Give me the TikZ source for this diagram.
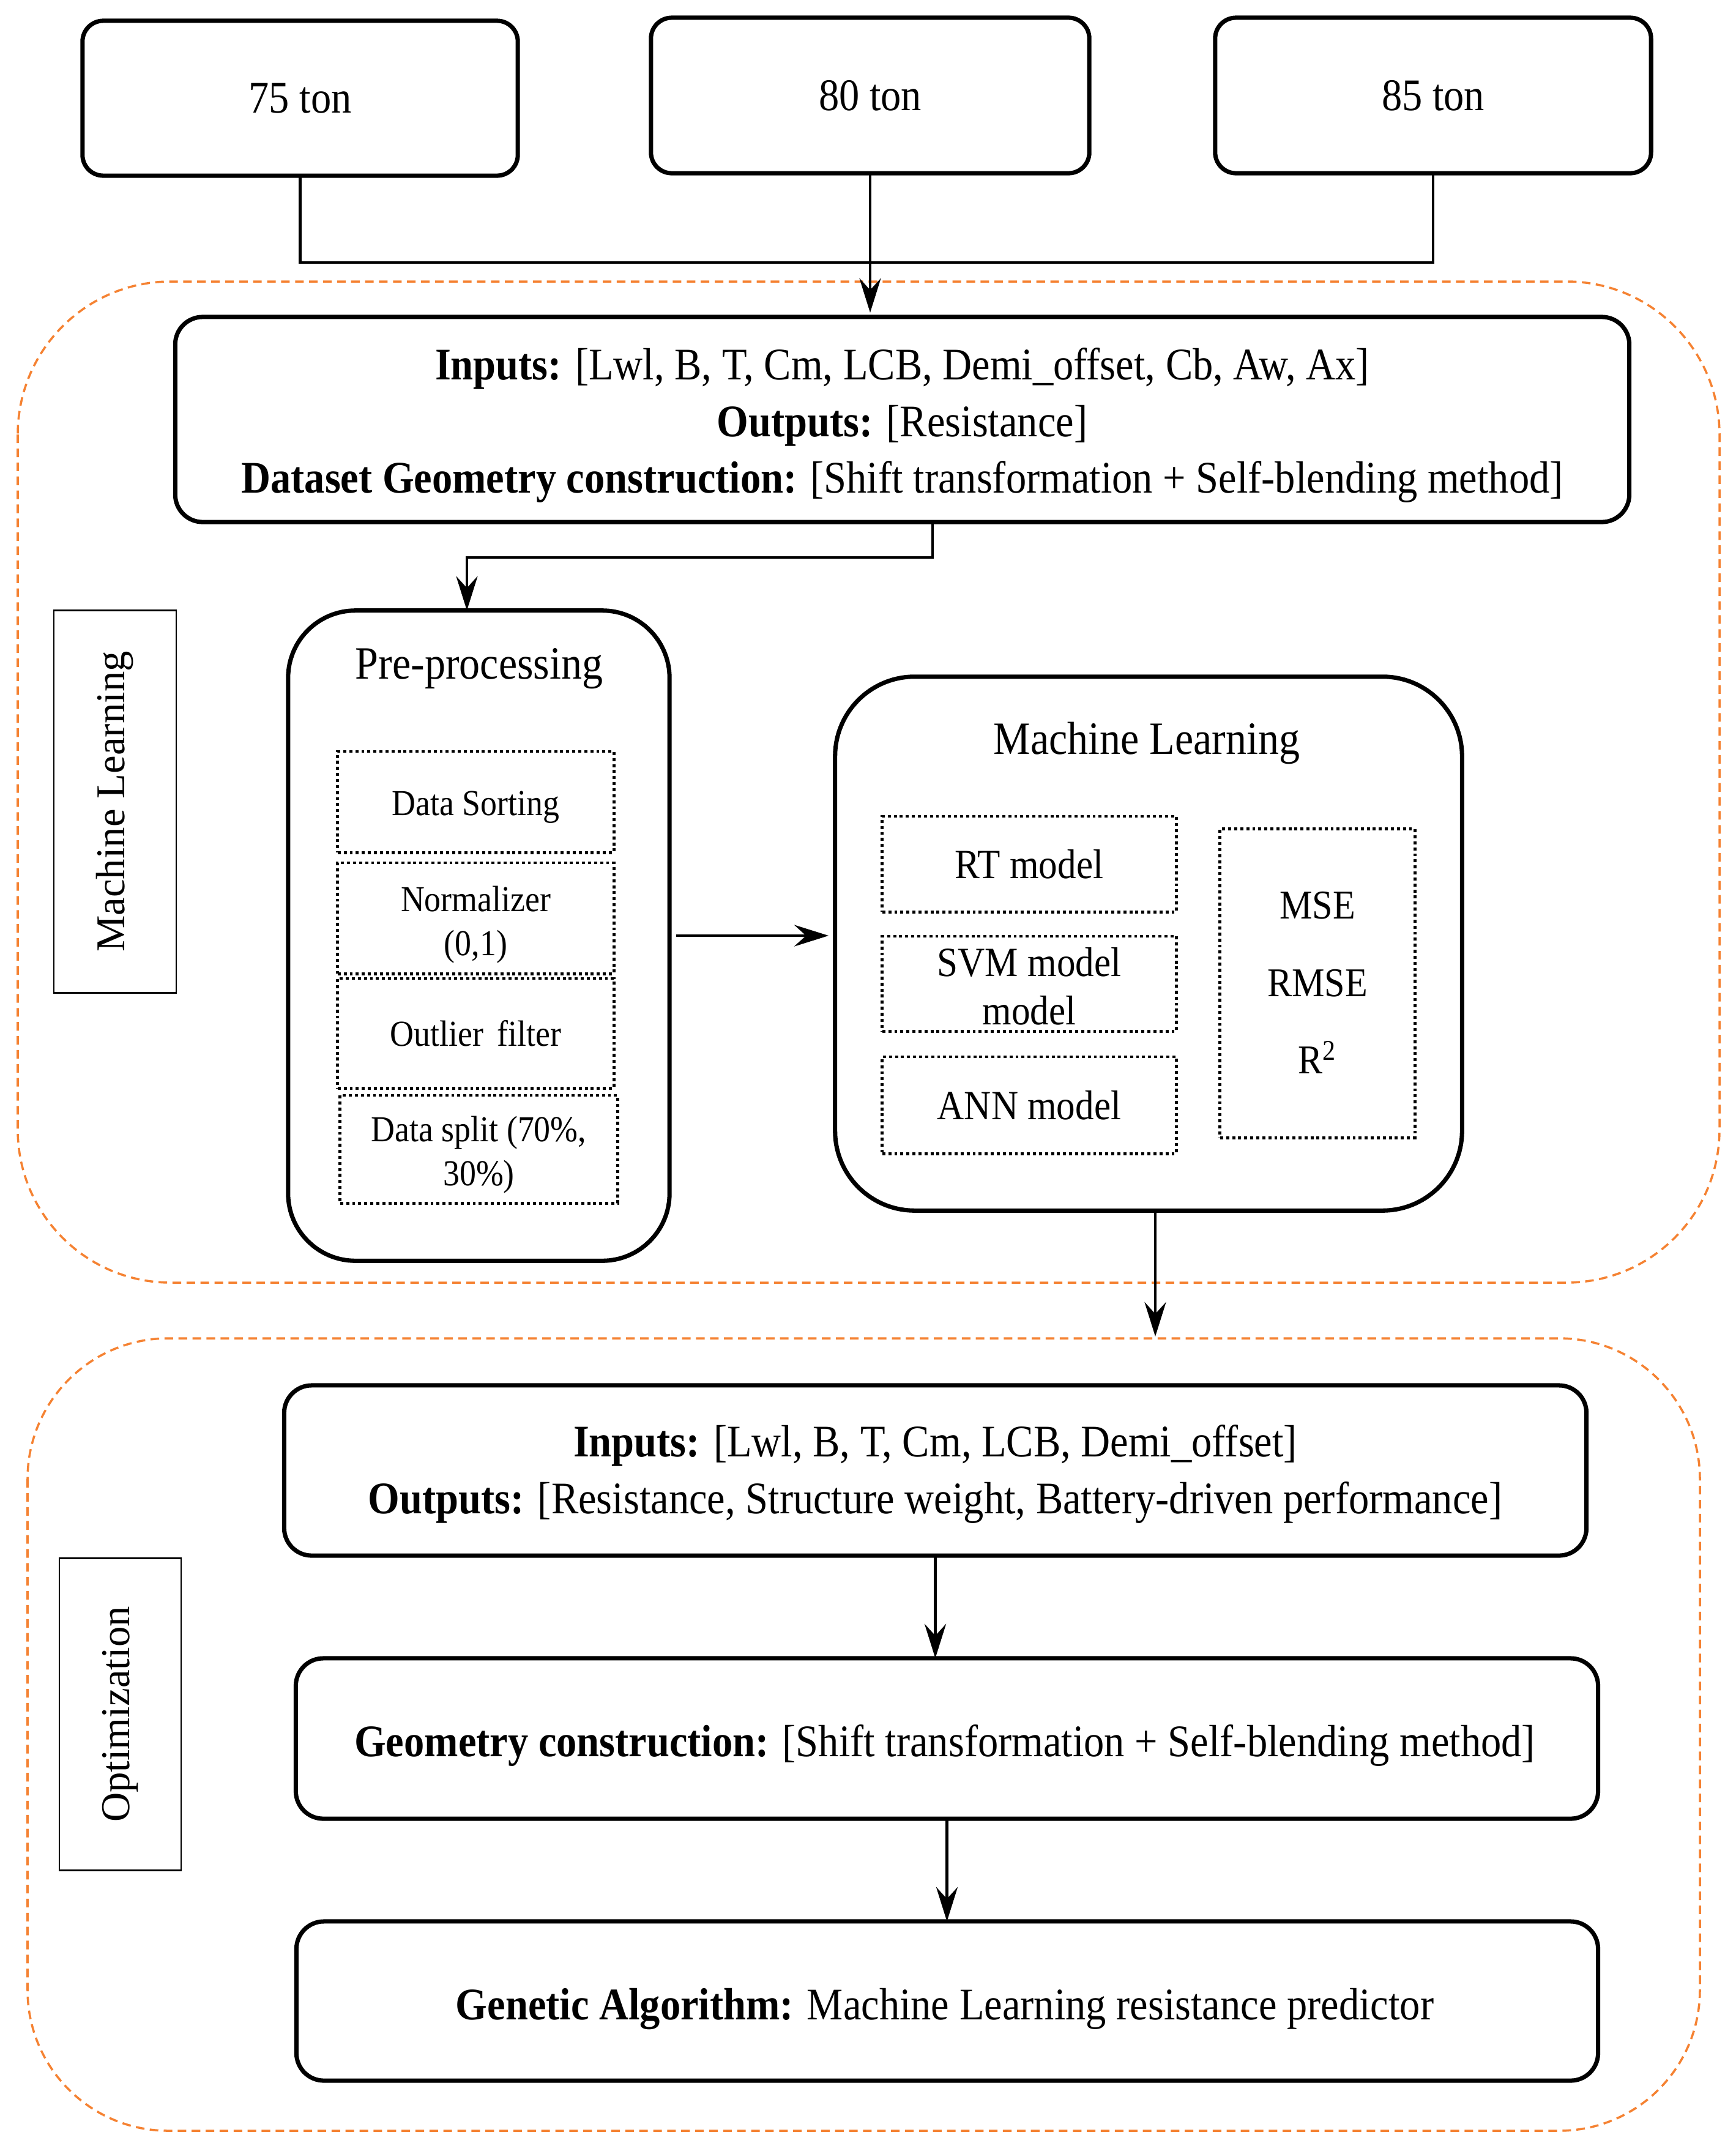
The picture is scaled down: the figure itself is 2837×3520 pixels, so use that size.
\documentclass[tikz,border=0pt]{standalone}
\usepackage{fontspec}
\setmainfont{Liberation Serif}[FakeStretch=0.9]
\newfontfamily\rotfont{Liberation Serif}
\usetikzlibrary{arrows.meta}
\definecolor{orng}{RGB}{245,130,50}
\tikzset{
  bigbox/.style={draw, line width=2pt, outer sep=0pt, inner sep=0pt, align=center},
  dotbox/.style={draw, line width=1.4pt, dash pattern=on 1.4pt off 1.4pt, outer sep=0pt, inner sep=0pt, align=center},
  labbox/.style={draw, line width=0.8pt, outer sep=0pt, inner sep=0pt},
  region/.style={draw=orng, line width=1pt, dash pattern=on 4pt off 2.5pt},
  conn/.style={line width=1.2pt},
  arr/.style={line width=1.2pt, -{Stealth[length=16pt,width=10pt,inset=5.5pt]}},
  bigtxt/.style={font=\fontsize{21}{26.2}\selectfont, align=center, inner sep=0pt},
  toptxt/.style={font=\fontsize{21}{26}\selectfont},
  ttltxt/.style={font=\fontsize{21.5}{26}\selectfont},
  midtxt/.style={font=\fontsize{19.3}{22.5}\selectfont, align=center},
  smalltxt/.style={font=\fontsize{17}{20.5}\selectfont, align=center},
  rottxt/.style={font=\rotfont\fontsize{19}{23}\selectfont, rotate=90}
}
\begin{document}
\begin{tikzpicture}[x=0.01cm,y=-0.01cm]
\useasboundingbox (0,0) rectangle (2837,3520);

% regions
\draw[region, rounded corners=2.5cm] (29,460) rectangle (2810,2096);
\draw[region, rounded corners=2.3cm] (45,2187) rectangle (2778,3482);

% top boxes
\node[bigbox, toptxt, rounded corners=0.34cm, minimum width=7.11cm, minimum height=2.53cm] (t75) at (490.5,160.5) {75 ton};
\node[bigbox, toptxt, rounded corners=0.34cm, minimum width=7.16cm, minimum height=2.54cm] (t80) at (1422,156) {80 ton};
\node[bigbox, toptxt, rounded corners=0.34cm, minimum width=7.12cm, minimum height=2.54cm] (t85) at (2342,156) {85 ton};

% inputs box 1
\node[bigbox, rounded corners=0.45cm, minimum width=23.75cm, minimum height=3.35cm] (in1) at (1474.5,685.5) {};
\node[bigtxt] (in1t) at (1474.5,695)
  {\textbf{Inputs:} [Lwl, B,\ T, Cm, LCB,\ Demi\_offset, Cb, Aw, Ax]\\
   \textbf{Outputs:} [Resistance]\\
   \textbf{Dataset Geometry construction:} [Shift transformation + Self-blending method]};

\coordinate (jn) at (1422,429);
\draw[conn] (t75.south) |- (jn) -| (t85.south);
\draw[arr, shorten >=2pt] (t80.south) -- (t80.south |- in1.north);

% ML label
\node[labbox, minimum width=2.0cm, minimum height=6.24cm] (mllab) at (188,1310) {};
\node[rottxt] (mllabt) at (mllab.center) {Machine Learning};

% pre-processing
\node[bigbox, rounded corners=1.1cm, minimum width=6.23cm, minimum height=10.62cm] (pre) at (782.5,1529) {};
\node[ttltxt] (pret) at (783,1093) {Pre-processing};
\node[dotbox, minimum width=4.51cm, minimum height=1.65cm] (ds) at (777.5,1310.5) {};
\node[smalltxt] (dst) at (777.5,1319) {Data Sorting};
\node[dotbox, minimum width=4.51cm, minimum height=1.81cm] (nz) at (777.5,1500.5) {};
\node[smalltxt] (nzt) at (777.5,1511) {Normalizer\\(0,1)};
\node[dotbox, smalltxt, minimum width=4.51cm, minimum height=1.79cm] (of) at (777.5,1688.5) {Outlier\hspace{0.15em} filter};
\node[dotbox, minimum width=4.53cm, minimum height=1.76cm] (dsp) at (782.5,1878) {};
\node[smalltxt] (dspt) at (782.5,1887) {Data split (70\%,\\30\%)};

\coordinate (c1) at (1524,911);
\coordinate (c2) at (763,911);
\draw[arr] (in1.south -| c1) -- (c1) -- (c2) -- (pre.north -| c2);

% machine learning
\node[bigbox, rounded corners=1.3cm, minimum width=10.24cm, minimum height=8.72cm] (ml) at (1877,1542) {};
\node[ttltxt] (mlt) at (1874,1214) {Machine Learning};
\node[dotbox, midtxt, minimum width=4.8cm, minimum height=1.56cm] (rt) at (1682,1412) {RT model};
\node[dotbox, minimum width=4.8cm, minimum height=1.55cm] (svm) at (1682,1607.5) {};
\node[midtxt] (svmt) at (1682,1612) {SVM model\\model};
\node[dotbox, midtxt, minimum width=4.8cm, minimum height=1.58cm] (ann) at (1682,1806) {ANN model};
\node[dotbox, minimum width=3.18cm, minimum height=5.04cm] (met) at (2153,1607) {};
\node[font=\fontsize{19}{36}\selectfont, align=center] (mett) at (2153,1606) {MSE\\RMSE\\R\textsuperscript{2}};

\draw[arr, shorten <=3pt, shorten >=3pt] (pre.east) -- (pre.east -| ml.west);

\coordinate (mlout) at (1888,1978);
\coordinate (r2top) at (1888,2184);
\draw[arr] (mlout) -- (r2top);

% optimization
\node[labbox, minimum width=1.99cm, minimum height=5.09cm] (oplab) at (196.5,2801.5) {};
\node[rottxt] (oplabt) at (oplab.center) {Optimization};

\node[bigbox, rounded corners=0.45cm, minimum width=21.27cm, minimum height=2.78cm] (in2) at (1528.5,2403) {};
\node[bigtxt] (in2t) at (1528.5,2409)
  {\textbf{Inputs:} [Lwl, B,\ T, Cm, LCB,\ Demi\_offset]\\
   \textbf{Outputs:} [Resistance, Structure weight, Battery-driven performance]};
\node[bigbox, rounded corners=0.45cm, minimum width=21.27cm, minimum height=2.62cm] (geo) at (1547.5,2841) {};
\node[bigtxt] (geot) at (1544,2852)
  {\textbf{Geometry construction:} [Shift transformation + Self-blending method]};
\node[bigbox, rounded corners=0.45cm, minimum width=21.26cm, minimum height=2.60cm] (ga) at (1548,3270) {};
\node[bigtxt] (gat) at (1544,3283)
  {\textbf{Genetic Algorithm:} Machine Learning resistance predictor};

\draw[arr] (in2.south) -- (in2.south |- geo.north);
\draw[arr] (geo.south) -- (geo.south |- ga.north);
\end{tikzpicture}
\end{document}
